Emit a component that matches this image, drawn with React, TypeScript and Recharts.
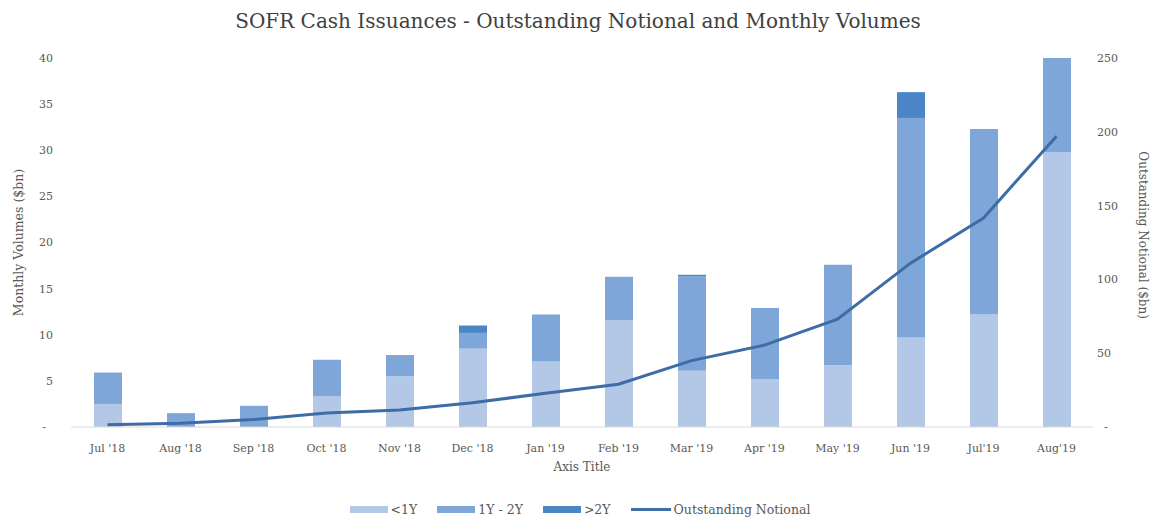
import { ComposedChart, Bar, Line, XAxis, YAxis, Legend } from "recharts";

const months = ["Jul '18", "Aug '18", "Sep '18", "Oct '18", "Nov '18", "Dec '18", "Jan '19", "Feb '19", "Mar '19", "Apr '19", "May '19", "Jun '19", "Jul'19", "Aug'19"];
const under1Y = [2.5, 0, 0, 3.3, 5.5, 8.5, 7.1, 11.6, 6.1, 5.2, 6.7, 9.7, 12.2, 29.8];
const y1to2Y = [3.4, 1.5, 2.3, 4.0, 2.3, 1.7, 5.1, 4.7, 10.2, 7.7, 10.9, 23.8, 20.1, 10.2];
const over2Y = [0, 0, 0, 0, 0, 0.8, 0, 0, 0.2, 0, 0, 2.8, 0, 0];
const outstanding = [1.5, 2.5, 5, 9.5, 11.5, 16.5, 22.8, 29, 45, 55.5, 73, 111, 141.6, 197];
const leftTicks = [0, 5, 10, 15, 20, 25, 30, 35, 40];
const rightTicks = [0, 50, 100, 150, 200, 250];

const data = months.map((m, i) => ({
    month: m,
    lt1: under1Y[i],
    y12: y1to2Y[i],
    gt2: over2Y[i],
    notional: outstanding[i],
}));

const FONT = "'DejaVu Serif', 'Liberation Serif', serif";
const C_LIGHT = "#b3c7e6";
const C_MID = "#7ea6d9";
const C_DARK = "#4a86c6";
const C_LINE = "#3d6ca6";
const TXT = "#595959";

const legendItems = [
    { name: "<1Y", color: C_LIGHT, line: false },
    { name: "1Y - 2Y", color: C_MID, line: false },
    { name: ">2Y", color: C_DARK, line: false },
    { name: "Outstanding Notional", color: C_LINE, line: true },
];

const CustomLegend = () => (
    <div style={{ display: "flex", justifyContent: "center", alignItems: "center", fontFamily: FONT, fontSize: 12.5, color: TXT, paddingLeft: 4 }}>
        {legendItems.map((it, i) => (
            <div key={it.name} style={{ display: "flex", alignItems: "center", marginRight: i < legendItems.length - 1 ? 20 : 0 }}>
                <span
                    style={{
                        display: "inline-block",
                        width: it.line ? 40 : 38,
                        height: it.line ? 3 : 7,
                        background: it.color,
                        marginRight: 3,
                    }}
                />
                <span>{it.name}</span>
            </div>
        ))}
    </div>
);

export default function App() {
    return (
        <div style={{ position: "absolute", left: 0, top: 0, width: 1156, height: 525, background: "#fff" }}>
            <div style={{ position: "absolute", top: 9, width: 1156, textAlign: "center", fontFamily: FONT, fontSize: 20, color: "#404040" }}>
                SOFR Cash Issuances - Outstanding Notional and Monthly Volumes
            </div>
            <ComposedChart width={1156} height={525} data={data} margin={{ top: 58, right: 0, bottom: 3, left: 0 }} barSize={28}>
                <XAxis
                    dataKey="month"
                    interval={0}
                    height={75}
                    tickLine={false}
                    tickSize={6}
                    tickMargin={11}
                    axisLine={{ stroke: "#d9d9d9" }}
                    tick={{ fontFamily: FONT, fontSize: 11, fill: TXT }}
                    label={{ value: "Axis Title", position: "insideBottom", offset: 31, fontFamily: FONT, fontSize: 12, fill: TXT }}
                />
                <YAxis
                    yAxisId="left"
                    width={71}
                    domain={[0, 40]}
                    ticks={leftTicks}
                    axisLine={false}
                    tickLine={false}
                    tickMargin={18}
                    tickSize={0}
                    tickFormatter={(v: number) => (v === 0 ? "-\u00a0\u00a0" : String(v))}
                    tick={{ fontFamily: FONT, fontSize: 11, fill: TXT }}
                    label={{
                        content: (p: any) => {
                            const vb = p.viewBox;
                            const x = vb.x + 18;
                            const y = vb.y + vb.height * 0.5;
                            return (
                                <text x={x} y={y} transform={`rotate(-90, ${x}, ${y})`} textAnchor="middle" dominantBaseline="central" fontFamily={FONT} fontSize={12.5} fill={TXT}>
                                    Monthly Volumes ($bn)
                                </text>
                            );
                        },
                    }}
                />
                <YAxis
                    yAxisId="right"
                    orientation="right"
                    width={63}
                    domain={[0, 250]}
                    ticks={rightTicks}
                    axisLine={false}
                    tickLine={false}
                    tickSize={2}
                    tickMargin={2}
                    tickFormatter={(v: number) => (v === 0 ? "\u00a0\u00a0-" : String(v))}
                    tick={{ fontFamily: FONT, fontSize: 11, fill: TXT }}
                    label={{
                        content: (p: any) => {
                            const vb = p.viewBox;
                            const x = vb.x + 50;
                            const y = vb.y + vb.height * 0.48;
                            return (
                                <text x={x} y={y} transform={`rotate(90, ${x}, ${y})`} textAnchor="middle" dominantBaseline="central" fontFamily={FONT} fontSize={12} fill={TXT}>
                                    Outstanding Notional ($bn)
                                </text>
                            );
                        },
                    }}
                />
                <Legend verticalAlign="bottom" height={20} content={<CustomLegend />} />
                <Bar yAxisId="left" dataKey="lt1" stackId="v" fill={C_LIGHT} name="<1Y" isAnimationActive={false} />
                <Bar yAxisId="left" dataKey="y12" stackId="v" fill={C_MID} name="1Y - 2Y" isAnimationActive={false} />
                <Bar yAxisId="left" dataKey="gt2" stackId="v" fill={C_DARK} name=">2Y" isAnimationActive={false} />
                <Line yAxisId="right" type="linear" dataKey="notional" stroke={C_LINE} strokeWidth={3} dot={false} name="Outstanding Notional" isAnimationActive={false} />
            </ComposedChart>
        </div>
    );
}
